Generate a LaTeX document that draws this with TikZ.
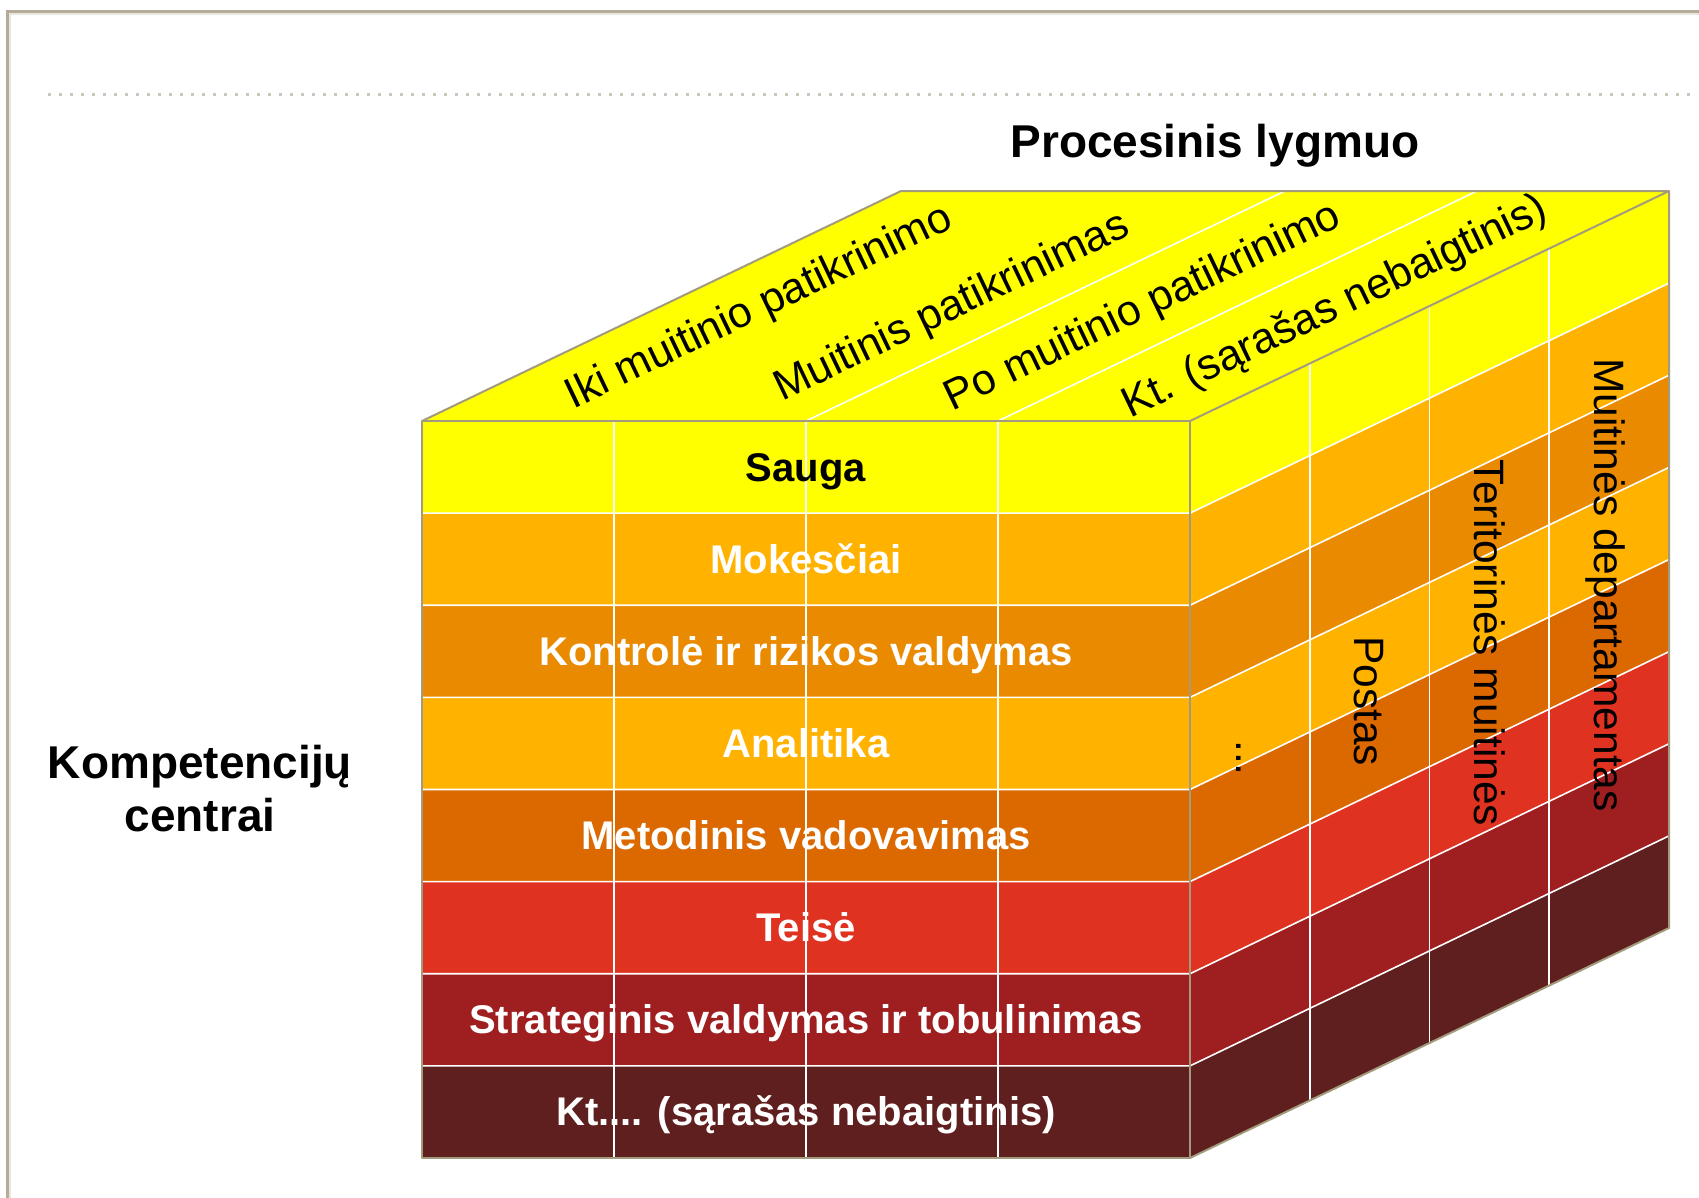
\documentclass[tikz,border=0pt]{standalone}
\usepackage{fontspec}
\setmainfont{Liberation Sans}
\definecolor{cYel}{HTML}{FFFF00}
\definecolor{cAmb}{HTML}{FFB300}
\definecolor{cOr}{HTML}{E98A00}
\definecolor{cDOr}{HTML}{DC6900}
\definecolor{cRed}{HTML}{DF3220}
\definecolor{cDRed}{HTML}{9F1E1F}
\definecolor{cBrn}{HTML}{5E1F1E}
\definecolor{cEdge}{HTML}{A39B7E}
\definecolor{cFrame}{HTML}{B4AC98}
\definecolor{cDot}{HTML}{CBC7BB}
\begin{document}
\begin{tikzpicture}[x=1pt,y=-1pt,
  rowlab/.style={font=\fontsize{40}{48}\selectfont\bfseries, anchor=base, text=white, inner sep=0pt},
  toplab/.style={font=\fontsize{43}{50}\selectfont, anchor=base, rotate=25.57, inner sep=0pt},
  sidelab/.style={font=\fontsize{42.5}{50}\selectfont, anchor=base, rotate=-90, inner sep=0pt},
  gridline/.style={white, line width=1.6pt},
  edgeline/.style={draw=cEdge, line width=2pt, line join=round},
  titlelab/.style={font=\fontsize{46}{53}\selectfont\bfseries, inner sep=0pt, anchor=base}]
\useasboundingbox (0,0) rectangle (1699,1197);
% frame and dotted rule
\draw[cFrame, line width=3pt] (7,1200) -- (7,11) -- (1702,11);
\draw[cFrame!30, line width=2pt] (10,1200) -- (10,14) -- (1702,14);
\draw[cDot, line width=3pt, dash pattern=on 3pt off 8pt] (48,94) -- (1690,94);
% corners
\coordinate (FTL) at (422,421);
\coordinate (FTR) at (1190,421);
\coordinate (FBL) at (422,1158);
\coordinate (FBR) at (1190,1158);
\coordinate (BTL) at (901,191);
\coordinate (BTR) at (1669,191);
\coordinate (BBR) at (1669,928);
% top face
\fill[cYel] (FTL) -- (BTL) -- (BTR) -- (FTR) -- cycle;
% rows on front and right faces
\foreach \c [count=\i from 0] in {cYel,cAmb,cOr,cAmb,cDOr,cRed,cDRed,cBrn} {
  \fill[\c] (422,{421+92.125*\i}) rectangle (1190,{421+92.125*(\i+1)});
  \fill[\c] (1190,{421+92.125*\i}) -- ++(479,-230) -- ++(0,92.125) -- (1190,{421+92.125*(\i+1)}) -- cycle;
}
% white grid lines
\foreach \i in {1,...,7} {
  \draw[gridline] (422,{421+92.125*\i}) -- (1190,{421+92.125*\i}) -- ++(479,-230);
}
\foreach \x in {614,806,998} { \draw[gridline] (\x,421) -- (\x,1158); }
\foreach \k in {1,2,3} { \draw[gridline] ({1190+479*\k/4},{421-230*\k/4}) -- ++(0,737); }
\foreach \x in {806,998} { \draw[gridline] (\x,421) -- ++(479,-230); }
% outline
\draw[edgeline] (FTL) rectangle (FBR);
\draw[edgeline] (FTL) -- (BTL) -- (BTR) -- (FTR);
\draw[edgeline] (BTR) -- (BBR) -- (FBR);
% titles
\node[titlelab] (proc) at (1215,157) {Procesinis lygmuo};
\node[titlelab] (komp1) at (200,778) {Kompetencijų};
\node[titlelab] (komp2) at (200,831) {centrai};
% row labels
\node[rowlab, text=black] (r1) at (806,{421+92.125*0.5+14}) {Sauga};
\node[rowlab] (r2) at (806,{421+92.125*1.5+14}) {Mokesčiai};
\node[rowlab] (r3) at (806,{421+92.125*2.5+14}) {Kontrolė ir rizikos valdymas};
\node[rowlab] (r4) at (806,{421+92.125*3.5+14}) {Analitika};
\node[rowlab] (r5) at (806,{421+92.125*4.5+14}) {Metodinis vadovavimas};
\node[rowlab] (r6) at (806,{421+92.125*5.5+14}) {Teisė};
\node[rowlab] (r7) at (806,{421+92.125*6.5+14}) {Strateginis valdymas ir tobulinimas};
\node[rowlab] (r8) at (806,{421+92.125*7.5+14}) {Kt.... (sąrašas nebaigtinis)};
% top face labels
\node[toplab] (p1) at (764,318) {Iki muitinio patikrinimo};
\node[toplab] (p2) at (957,318) {Muitinis patikrinimas};
\node[toplab] (p3) at (1148,318) {Po muitinio patikrinimo};
\node[toplab] (p4) at (1340,318) {Kt. (sąrašas nebaigtinis)};
% right face labels
\node[sidelab] (s1) at (1236,758) {...};
\node[sidelab] (s2) at (1354,701) {Postas};
\node[sidelab] (s3) at (1474,643) {Teritorinės muitinės};
\node[sidelab] (s4) at (1594,585) {Muitinės departamentas};
\end{tikzpicture}
\end{document}
